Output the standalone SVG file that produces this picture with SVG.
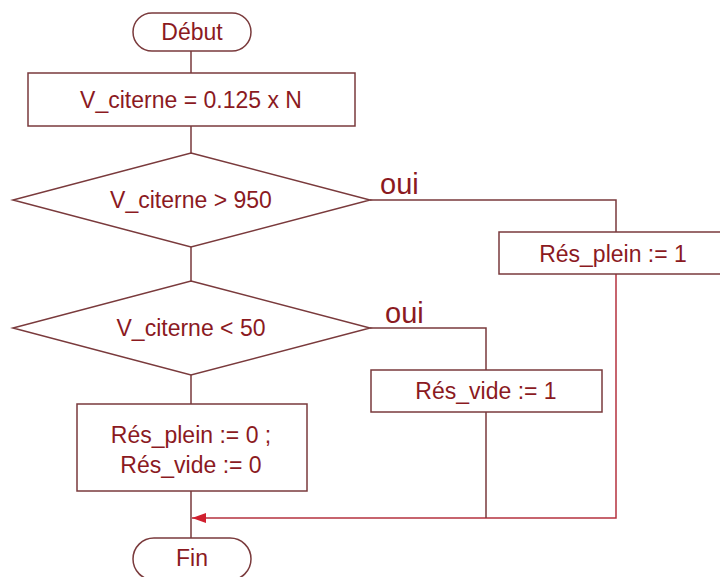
<svg xmlns="http://www.w3.org/2000/svg" width="720" height="577" viewBox="0 0 720 577">
<defs>
<style>
.s{fill:#fff;stroke:#7a3a3c;stroke-width:1.5}
.c{fill:none;stroke:#7a3a3c;stroke-width:1.5}
.r{fill:none;stroke:#b5323f;stroke-width:1.5}
.t{font-family:"Liberation Sans",Arial,sans-serif;font-size:23px;fill:#8b1a1f;text-anchor:middle;dominant-baseline:central}
.o{font-family:"Liberation Sans",Arial,sans-serif;font-size:29px;fill:#8b1a1f}
</style>
<marker id="ah" viewBox="0 0 14 10" refX="14" refY="5" markerWidth="14" markerHeight="10" markerUnits="userSpaceOnUse" orient="auto">
<path d="M0,0 L14,5 L0,10 Z" fill="#d0202f"/>
</marker>
</defs>
<rect width="720" height="577" fill="#fff"/>
<g id="connectors">
<path class="c" d="M191,51 V73 M191,126 V153 M191,247 V281 M191,375 V404 M191,491 V538"/>
<path class="c" d="M370,200 H616 V232"/>
<path class="r" d="M616,274 V518 H192" marker-end="url(#ah)"/>
<path class="c" d="M370,328 H486 V370 M486,412 V518"/>
</g>
<g id="debut">
<rect class="s" x="133" y="13" width="118" height="38" rx="19"/>
<text class="t" x="192" y="32">Début</text>
</g>
<g id="calc">
<rect class="s" x="28" y="73" width="327" height="53"/>
<text class="t" x="191" y="100">V_citerne = 0.125 x N</text>
</g>
<g id="test1">
<polygon class="s" points="191,153 370,200 191,247 13,200"/>
<text class="t" x="191" y="200">V_citerne &gt; 950</text>
<text class="o" x="380" y="194">oui</text>
</g>
<g id="plein">
<rect class="s" x="499" y="232" width="230" height="42"/>
<text class="t" x="613" y="254">Rés_plein := 1</text>
</g>
<g id="test2">
<polygon class="s" points="191,281 370,328 191,375 13,328"/>
<text class="t" x="191" y="328">V_citerne &lt; 50</text>
<text class="o" x="385" y="323">oui</text>
</g>
<g id="vide">
<rect class="s" x="371" y="370" width="231" height="42"/>
<text class="t" x="486" y="391">Rés_vide := 1</text>
</g>
<g id="reset">
<rect class="s" x="77" y="404" width="230" height="87"/>
<text class="t" x="191" y="435">Rés_plein := 0 ;</text>
<text class="t" x="191" y="465">Rés_vide := 0</text>
</g>
<g id="fin">
<rect class="s" x="133" y="538" width="118" height="42" rx="21"/>
<text class="t" x="192" y="558">Fin</text>
</g>
</svg>
